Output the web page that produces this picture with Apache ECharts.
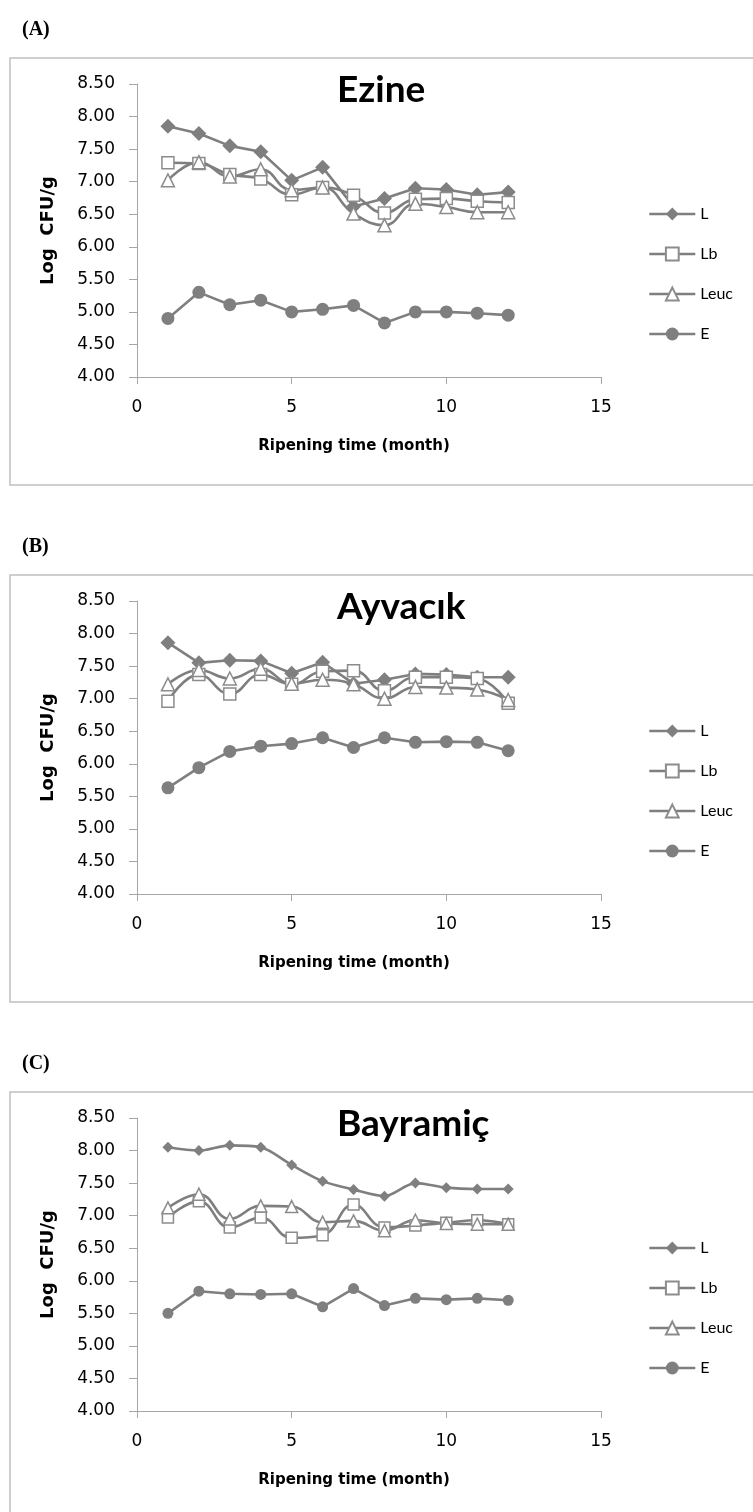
<!DOCTYPE html>
<html><head><meta charset="utf-8">
<script src="https://cdn.jsdelivr.net/npm/echarts@6/dist/echarts.min.js"></script>
<style>html,body{margin:0;padding:0;background:#fff}#c{width:753px;height:1512px}</style>
</head><body><div id="c"></div>
<script>
// ---- data ----
const months = [1, 2, 3, 4, 5, 6, 7, 8, 9, 10, 11, 12];
const seriesNames = ['L', 'Lb', 'Leuc', 'E'];
const panelLabels = ['(A)', '(B)', '(C)'];
const panelTitles = ['Ezine', 'Ayvacık', 'Bayramiç'];
const xAxisTitle = 'Ripening time (month)';
const yAxisTitle = 'Log  CFU/g';

const ezineL    = [7.85, 7.74, 7.55, 7.46, 7.02, 7.22, 6.62, 6.74, 6.90, 6.88, 6.80, 6.84];
const ezineLb   = [7.29, 7.28, 7.11, 7.04, 6.80, 6.91, 6.79, 6.52, 6.73, 6.74, 6.70, 6.68];
const ezineLeuc = [7.02, 7.30, 7.08, 7.19, 6.87, 6.91, 6.51, 6.33, 6.66, 6.61, 6.53, 6.53];
const ezineE    = [4.90, 5.30, 5.11, 5.18, 5.00, 5.04, 5.10, 4.83, 5.00, 5.00, 4.98, 4.95];

const ayvacikL    = [7.86, 7.55, 7.59, 7.58, 7.39, 7.56, 7.23, 7.29, 7.38, 7.37, 7.33, 7.33];
const ayvacikLb   = [6.96, 7.37, 7.07, 7.37, 7.22, 7.42, 7.43, 7.12, 7.33, 7.33, 7.31, 6.93];
const ayvacikLeuc = [7.22, 7.44, 7.31, 7.46, 7.23, 7.29, 7.22, 7.00, 7.18, 7.17, 7.14, 6.98];
const ayvacikE    = [5.63, 5.94, 6.19, 6.27, 6.31, 6.40, 6.25, 6.40, 6.33, 6.34, 6.33, 6.20];

const bayramicL    = [8.05, 8.00, 8.08, 8.05, 7.78, 7.53, 7.40, 7.30, 7.50, 7.43, 7.41, 7.41];
const bayramicLb   = [6.97, 7.22, 6.82, 6.97, 6.66, 6.70, 7.17, 6.82, 6.85, 6.89, 6.93, 6.87];
const bayramicLeuc = [7.12, 7.33, 6.95, 7.15, 7.14, 6.90, 6.92, 6.77, 6.93, 6.88, 6.87, 6.87];
const bayramicE    = [5.50, 5.84, 5.80, 5.79, 5.80, 5.60, 5.88, 5.62, 5.73, 5.71, 5.73, 5.70];

const panelData = [
  [ezineL, ezineLb, ezineLeuc, ezineE],
  [ayvacikL, ayvacikLb, ayvacikLeuc, ayvacikE],
  [bayramicL, bayramicLb, bayramicLeuc, bayramicE]
];

// ---- layout/style ----
const PERIOD = 517;
const GREY = '#7f7f7f';
const AXIS = '#a6a6a6';
const smoothCfg = [
  [false, 0.45, 0.45, false],
  [false, 0.45, 0.45, false],
  [0.3, 0.45, 0.45, false]
];
const symCfg = [
  {symbol: 'diamond', size: [15, 15, 11], fill: GREY},
  {symbol: 'rect', size: [12, 12, 11], fill: '#fff'},
  {symbol: 'triangle', size: [13, 13, 12], fill: '#fff'},
  {symbol: 'circle', size: [13, 13, 11], fill: GREY}
];

const grids = [], xAxes = [], yAxes = [], series = [], legends = [], graphics = [];
for (let p = 0; p < 3; p++) {
  const off = p * PERIOD;
  grids.push({left: 137, top: 84 + off, width: 464, height: 293});
  xAxes.push({
    type: 'value', gridIndex: p, min: 0, max: 15, interval: 5,
    name: xAxisTitle, nameLocation: 'middle', nameGap: 62,
    nameTextStyle: {fontFamily: 'DejaVu Sans', fontWeight: 'bold', fontSize: 15, color: '#000',
      padding: [0, 30, 0, 0]},
    axisLine: {show: true, onZero: false, lineStyle: {color: AXIS, width: 1}},
    axisTick: {show: true, inside: false, length: 7, lineStyle: {color: AXIS}},
    axisLabel: {fontFamily: 'DejaVu Sans', fontSize: 17, color: '#000', margin: 22},
    splitLine: {show: false}
  });
  yAxes.push({
    type: 'value', gridIndex: p, min: 4, max: 8.5, interval: 0.5,
    name: yAxisTitle, nameLocation: 'middle', nameGap: 80, nameRotate: 90,
    nameTextStyle: {fontFamily: 'DejaVu Sans', fontWeight: 'bold', fontSize: 18, color: '#000'},
    axisLine: {show: true, lineStyle: {color: AXIS, width: 1}},
    axisTick: {show: true, inside: false, length: 8, lineStyle: {color: AXIS}},
    axisLabel: {fontFamily: 'DejaVu Sans', fontSize: 17, color: '#000', margin: 22,
      formatter: v => v.toFixed(2)},
    splitLine: {show: false}
  });
  for (let s = 0; s < 4; s++) {
    const cfg = symCfg[s];
    series.push({
      type: 'line', name: seriesNames[s], xAxisIndex: p, yAxisIndex: p,
      data: months.map((m, i) => [m, panelData[p][s][i]]),
      smooth: smoothCfg[p][s],
      symbol: cfg.symbol, symbolSize: cfg.size[p], showAllSymbol: true,
      lineStyle: {color: GREY, width: 2.6},
      itemStyle: {color: cfg.fill, borderColor: s === 1 || s === 2 ? '#8c8c8c' : GREY,
        borderWidth: s === 1 || s === 2 ? 1.5 : 0},
      emphasis: {disabled: true},
      animation: false
    });
  }
  legends.push({
    orient: 'vertical', left: 643, top: 201 + off,
    itemWidth: 46, itemHeight: 16, itemGap: 24,
    data: seriesNames,
    lineStyle: {width: 2.6, color: GREY},
    textStyle: {fontFamily: 'Lato', fontSize: 16, lineHeight: 16, color: '#000'},
    selectedMode: false
  });
  graphics.push({
    type: 'rect', shape: {x: 10, y: 58 + off, width: 800, height: 427},
    style: {fill: 'none', stroke: '#c0c0c0', lineWidth: 1.5}, z: -10
  });
  graphics.push({
    type: 'text', x: 22, y: 30 + off,
    style: {text: panelLabels[p], font: 'bold 20px "Liberation Serif"', fill: '#000', textVerticalAlign: 'middle'}
  });
  graphics.push({
    type: 'text', x: 337, y: 90 + off,
    style: {text: panelTitles[p], font: 'bold 37px Lato', fill: '#000', textVerticalAlign: 'middle'}
  });
}

const chart = echarts.init(document.getElementById('c'), null, {renderer: 'canvas'});
chart.setOption({
  animation: false,
  backgroundColor: '#fff',
  grid: grids, xAxis: xAxes, yAxis: yAxes, series: series,
  legend: legends, graphic: graphics
});
</script></body></html>
